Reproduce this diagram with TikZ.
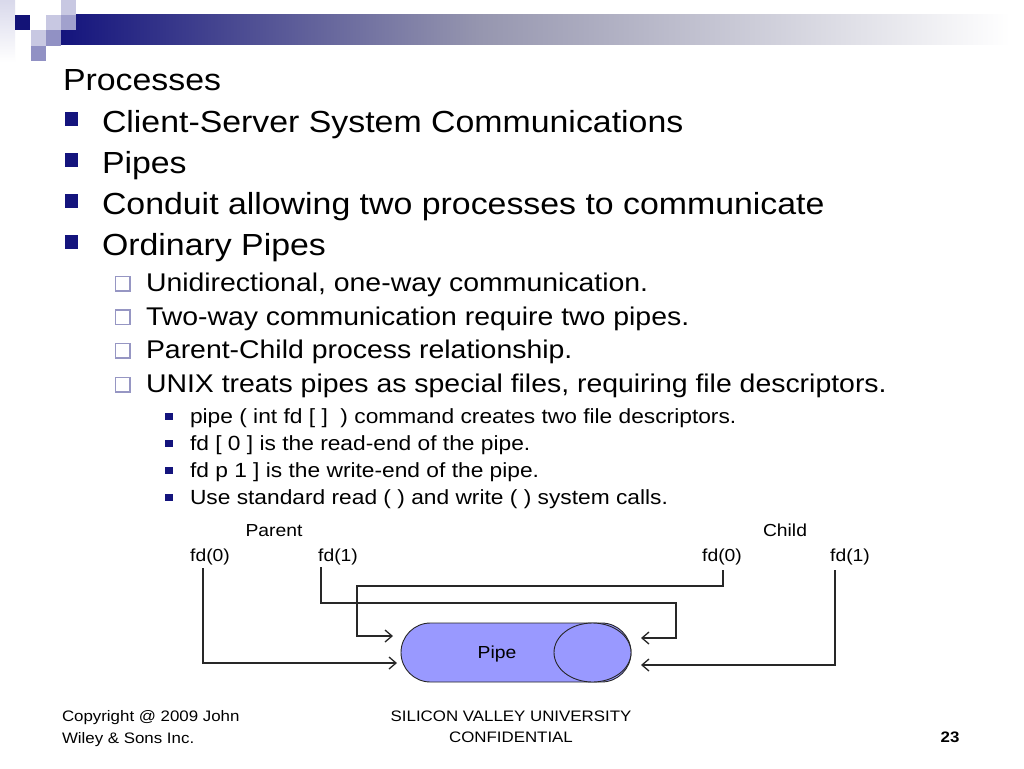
\documentclass[tikz,border=0pt]{standalone}
\usepackage{fontspec}
\setmainfont{Liberation Sans}[FakeStretch=1.11]
\usetikzlibrary{arrows.meta,shapes.misc,shapes.geometric}
\definecolor{navy}{RGB}{20,20,125}
\definecolor{lav}{RGB}{200,200,226}
\definecolor{medlav}{RGB}{145,145,196}
\definecolor{pipefill}{RGB}{153,153,255}
\definecolor{boxline}{RGB}{150,150,195}
\definecolor{wire}{RGB}{40,40,40}
\newcommand{\szmain}{\fontsize{30.5}{36}\selectfont}
\newcommand{\szsub}{\fontsize{25.6}{30}\selectfont}
\newcommand{\szsubsub}{\fontsize{20.5}{24}\selectfont}
\newcommand{\szdia}{\fontsize{17.4}{20}\selectfont}
\newcommand{\szfoot}{\fontsize{15.2}{18}\selectfont}
\begin{document}
\begin{tikzpicture}[x=1pt,y=-1pt,
  txt/.style={inner sep=0pt,outer sep=0pt,anchor=base west},
  mainbul/.style={fill=navy,inner sep=0pt,minimum size=13.5pt,draw=none},
  subbul/.style={draw=boxline,line width=1.5pt,fill=white,inner sep=0pt,minimum size=14.5pt},
  subsubbul/.style={fill=navy,inner sep=0pt,minimum size=7.5pt,draw=none},
  lbl/.style={inner sep=0pt,outer sep=0pt,anchor=base,font=\szdia},
  wireline/.style={draw=wire,line width=1.3pt,-{Straight Barb[length=7pt,width=12pt]}},
  pipeshape/.style={draw=black!85,line width=0.9pt,fill=pipefill}]
\useasboundingbox (0,0) rectangle (1024,768);
\fill[white] (0,0) rectangle (1024,768);
% header bar
\shade[top color=lav!70,bottom color=white] (0,0) rectangle (15,62);
\shade[left color=navy,right color={rgb,255:red,150;green,150;blue,175}] (61,15) rectangle (480,45);
\shade[left color={rgb,255:red,150;green,150;blue,175},right color=white] (479.5,15) rectangle (1010,45);
\fill[navy!95!black] (15,15) rectangle (30,30);
\fill[lav] (46,15) rectangle (61,30);
\fill[medlav!85!white] (61,15) rectangle (76,30);
\fill[lav] (61,0) rectangle (76,15);
\fill[lav] (31,30) rectangle (46,46);
\fill[medlav] (46,30) rectangle (61,46);
\fill[medlav] (31,46) rectangle (46,61);
% main text
\node[txt,font=\szmain] (title) at (63,90) {Processes};
\node[mainbul] (b1) at (71.5,119) {};
\node[txt,font=\szmain] (t1) at (102,132) {Client-Server System Communications};
\node[mainbul] (b2) at (71.5,160) {};
\node[txt,font=\szmain] (t2) at (102,173) {Pipes};
\node[mainbul] (b3) at (71.5,201) {};
\node[txt,font=\szmain] (t3) at (102,214) {Conduit allowing two processes to communicate};
\node[mainbul] (b4) at (71.5,242) {};
\node[txt,font=\szmain] (t4) at (102,255) {Ordinary Pipes};
% sub bullets
\node[subbul] (s1b) at (122.5,283.7) {};
\node[txt,font=\szsub] (s1) at (146,291.7) {Unidirectional, one-way communication.};
\node[subbul] (s2b) at (122.5,317.3) {};
\node[txt,font=\szsub] (s2) at (146,325.3) {Two-way communication require two pipes.};
\node[subbul] (s3b) at (122.5,350.9) {};
\node[txt,font=\szsub] (s3) at (146,358.9) {Parent-Child process relationship.};
\node[subbul] (s4b) at (122.5,384.5) {};
\node[txt,font=\szsub] (s4) at (146,392.5) {UNIX treats pipes as special files, requiring file descriptors.};
% sub-sub bullets
\node[subsubbul] (u1b) at (169,416.4) {};
\node[txt,font=\szsubsub] (u1) at (190,423) {pipe ( int fd [ ] \ ) command creates two file descriptors.};
\node[subsubbul] (u2b) at (169,443.4) {};
\node[txt,font=\szsubsub] (u2) at (190,450) {fd [ 0 ] is the read-end of the pipe.};
\node[subsubbul] (u3b) at (169,470.4) {};
\node[txt,font=\szsubsub] (u3) at (190,477) {fd p 1 ] is the write-end of the pipe.};
\node[subsubbul] (u4b) at (169,497.4) {};
\node[txt,font=\szsubsub] (u4) at (190,504) {Use standard read ( ) and write ( ) system calls.};
% diagram
\node[lbl] (parent) at (274,536) {Parent};
\node[lbl] (child) at (785,536) {Child};
\node[lbl] (pfd0) at (210,561) {fd(0)};
\node[lbl] (pfd1) at (338,561) {fd(1)};
\node[lbl] (cfd0) at (722,561) {fd(0)};
\node[lbl] (cfd1) at (850,561) {fd(1)};
\node[pipeshape,rounded rectangle,minimum width=230pt,minimum height=59pt,inner sep=0pt] (pipe) at (516,652.5) {};
\node[pipeshape,ellipse,minimum width=77pt,minimum height=59pt,inner sep=0pt] (pend) at (592.5,652.5) {};
\node[inner sep=0pt,font=\szdia] (pipelbl) at (497,654) {Pipe};
% connector endpoints
\coordinate (p0s) at (203,568);
\coordinate (p1s) at (321,567);
\coordinate (c0s) at (723,570);
\coordinate (c1s) at (835,570);
\coordinate (inL1) at (393,636);
\coordinate (inL2) at (397,663);
\coordinate (inR1) at (641,638);
\coordinate (inR2) at (641,665);
\draw[wireline] (p0s) |- (inL2);
\draw[wireline] (p1s) -- (321,603) -- (676,603) |- (inR1);
\draw[wireline] (c0s) -- (723,586) -- (357,586) |- (inL1);
\draw[wireline] (c1s) |- (inR2);
% footer
\node[txt,font=\szfoot] (f1) at (62,721) {Copyright @ 2009 John};
\node[txt,font=\szfoot] (f2) at (62,743) {Wiley \& Sons Inc.};
\node[inner sep=0pt,anchor=base,font=\szfoot] (f3) at (511,721) {SILICON VALLEY UNIVERSITY};
\node[inner sep=0pt,anchor=base,font=\szfoot] (f4) at (511,742) {CONFIDENTIAL};
\node[inner sep=0pt,anchor=base,font=\szfoot\bfseries] (pg) at (950,742) {23};
\end{tikzpicture}
\end{document}
